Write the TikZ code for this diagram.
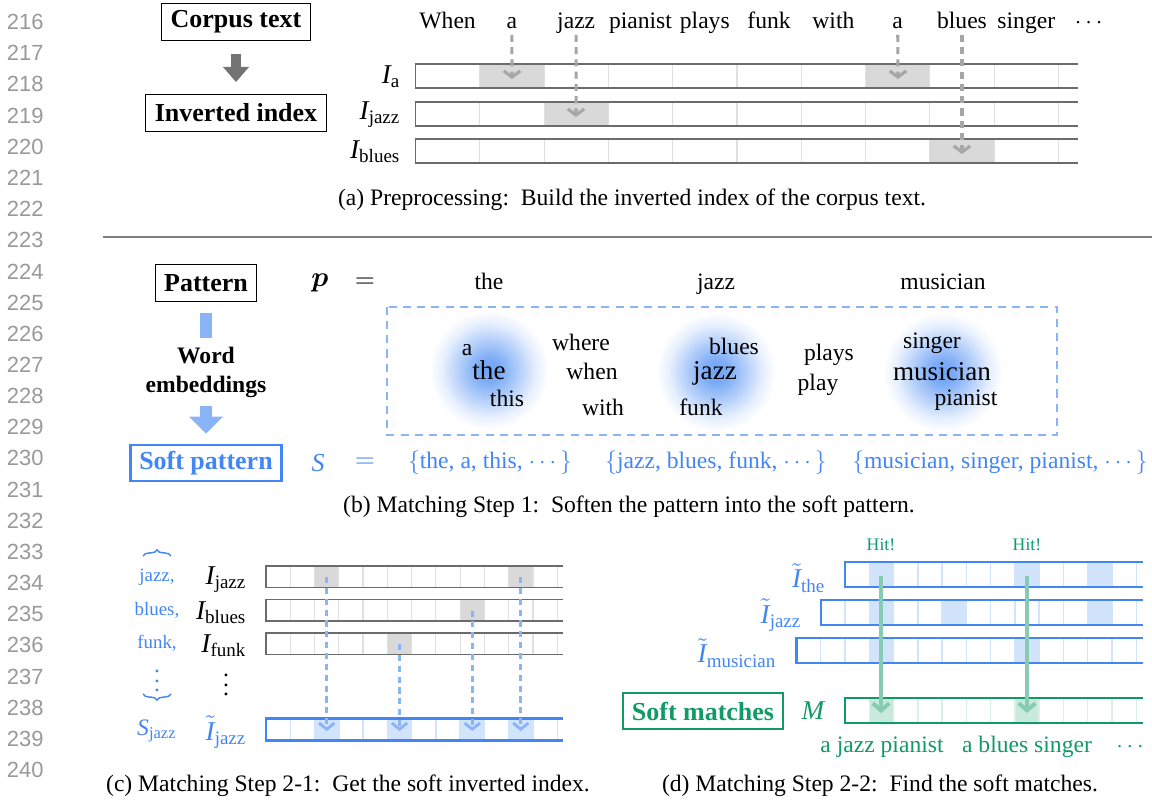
\documentclass[tikz,border=0pt]{standalone}
\usepackage{amsmath}
\usepackage{fontspec}
\setmainfont{Liberation Serif}
\newfontfamily\numfont{Liberation Sans}
\usetikzlibrary{arrows.meta,decorations.pathreplacing}
\definecolor{softblue}{HTML}{4285F4}
\definecolor{lightblue}{HTML}{8AB4F8}
\definecolor{paleblue}{HTML}{D2E3FC}
\definecolor{blobblue}{HTML}{6FA3F5}
\definecolor{matchgreen}{HTML}{0F9A66}
\pgfdeclareradialshading{blobshade}{\pgfpoint{0bp}{0bp}}{color(0bp)=(blobblue); color(5bp)=(blobblue!90!white); color(13bp)=(blobblue!50!white); color(20bp)=(blobblue!15!white); color(25bp)=(white); color(50bp)=(white)}

\begin{document}
\begin{tikzpicture}[
    x=0.4237pt, y=-0.4237pt,
    every node/.style={font=\fontsize{10}{12}\selectfont},
    linenum/.style={font=\numfont\fontsize{9.3}{10}\selectfont, text=black!40, anchor=east, inner sep=0pt},
    labelbox/.style={draw=black, line width=0.5pt, font=\fontsize{11}{13}\selectfont\bfseries, inner xsep=3.8pt, inner ysep=0pt, minimum height=15.5pt},
    softbox/.style={labelbox, draw=softblue, text=softblue, line width=1pt},
    matchbox/.style={labelbox, draw=matchgreen, text=matchgreen, line width=1pt},
    word/.style={text height=1.55ex, text depth=0.3ex, inner sep=1pt},
    ilabel/.style={font=\fontsize{11.5}{13}\selectfont, anchor=east, inner sep=0pt},
    setword/.style={text=softblue},
    hitword/.style={text=matchgreen},
    barline/.style={draw=black!58, line width=0.55pt},
    cellline/.style={draw=black!12, line width=0.5pt},
    graycell/.style={fill=black!15},
    bluebar/.style={draw=softblue, line width=1pt},
    bluecellline/.style={draw=paleblue, line width=0.6pt},
    bluecell/.style={fill=paleblue},
    greenbar/.style={draw=matchgreen, line width=1pt},
    greencellline/.style={draw=matchgreen!15, line width=0.6pt},
    greencell/.style={fill=matchgreen!22},
    grayhop/.style={draw=black!35, line width=1.3pt, dash pattern=on 3pt off 2.2pt, -{Straight Barb[length=2.6pt,width=7pt]}},
    bluehop/.style={draw=lightblue, line width=1.2pt, dash pattern=on 2.6pt off 2pt, -{Straight Barb[length=2.6pt,width=6.5pt]}},
    hitarrow/.style={draw=matchgreen!50, line width=1.7pt, -{Straight Barb[length=3pt,width=7pt]}},
    bigarrow/.style={draw=black!55, line width=4.2pt, -{Triangle[length=6.4pt,width=10.6pt]}},
    softshaft/.style={draw=lightblue, line width=5pt},
    softarrow/.style={draw=lightblue, line width=5pt, -{Triangle[length=7.2pt,width=14pt]}},
    dashbox/.style={draw=lightblue, line width=0.5pt, dash pattern=on 3.4pt off 2.6pt},
    setbrace/.style={decorate, decoration={brace, amplitude=2.6pt}, draw=softblue, line width=0.6pt},
    sepline/.style={draw=black!50, line width=0.9pt}
]
    \useasboundingbox (0,0) rectangle (1152,801);

    % line numbers
    \foreach \n in {0,...,24} {
        \pgfmathtruncatemacro\num{216+\n}
        \node[linenum] (ln\n) at (44,{22+31.17*\n}) {\num};
    }

    % (a) preprocessing
    \node[labelbox] (corpus) at (236,22) {Corpus text};
    \node[labelbox] (invidx) at (236,113) {Inverted index};
    \draw[bigarrow, shorten <=5.5pt, shorten >=5.1pt] (corpus) -- (invidx);

    \foreach \w [count=\k from 0] in {When,a,jazz,pianist,plays,funk,with,a,blues,singer,$\cdots$}
        \node[word] (w\k) at ({447.6+64.3*\k},22) {\w};

    \foreach \t/\cells in {64/{1,7},102/{2},139/{8}} {
        \foreach \k in \cells
            \fill[graycell] ({415.5+64.3*\k},\t) rectangle ++(64.3,24);
        \foreach \k in {1,...,10}
            \draw[cellline] ({415.5+64.3*\k},\t) -- ++(0,24);
        \draw[barline] (1078,\t) -- (415.5,\t) -- ++(0,24) -- (1078,\t+24);
    }
    \node[ilabel] (ia) at (401,77) {$\mathit{I}_{\mathrm{a}}$};
    \node[ilabel] (ijazz) at (401,115) {$\mathit{I}_{\mathrm{jazz}}$};
    \node[ilabel] (iblues) at (401,152) {$\mathit{I}_{\mathrm{blues}}$};

    \coordinate (ta1) at (512,79);
    \coordinate (ta2) at (576,117);
    \coordinate (ta3) at (898,79);
    \coordinate (ta4) at (962,154);
    \draw[grayhop] (w1) -- (ta1);
    \draw[grayhop] (w2) -- (ta2);
    \draw[grayhop] (w7) -- (ta3);
    \draw[grayhop] (w8) -- (ta4);

    \node (capa) at (632,200) {(a) Preprocessing:\ \ Build the inverted index of the corpus text.};
    \draw[sepline] (103,237) -- (1152,237);

    % (b) matching step 1
    \shade[shading=blobshade] (489,370) circle (60);
    \shade[shading=blobshade] (716,372) circle (60);
    \shade[shading=blobshade] (943,372) circle (60);
    \draw[dashbox] (387,307) rectangle (1057,435);

    \node[labelbox] (pattern) at (206,283) {Pattern};
    \node[font=\fontsize{10}{12.3}\selectfont\bfseries, align=center] (embed) at (206,372) {Word\\embeddings};
    \node[softbox] (softpat) at (206,463) {Soft pattern};
    \draw[softshaft, shorten <=4.7pt] (pattern) -- (embed);
    \draw[softarrow, shorten >=4.2pt] (embed) -- (softpat);

    \node[font=\fontsize{12}{14}\selectfont] (pvar) at (320,283) {$\boldsymbol{p}$};
    \node[font=\fontsize{11}{13}\selectfont] (peq) at (365,283) {$=$};
    \node[word] (pthe) at (489,283) {the};
    \node[word] (pjazz) at (716,283) {jazz};
    \node[word] (pmus) at (943,283) {musician};

    \node (na) at (467,350) {a};
    \node[font=\fontsize{11.5}{13}\selectfont] (nthe) at (489,370) {the};
    \node (nthis) at (507,398) {this};
    \node (nwhere) at (581,342) {where};
    \node (nwhen) at (592,371) {when};
    \node (nwith) at (603,407) {with};
    \node (nblues) at (734,346) {blues};
    \node[font=\fontsize{11.5}{13}\selectfont] (njazz) at (715,373) {jazz};
    \node (nfunk) at (701,407) {funk};
    \node (nplays) at (829,355) {plays};
    \node (nplay) at (818,385) {play};
    \node (nsinger) at (932,343) {singer};
    \node[font=\fontsize{11.5}{13}\selectfont] (nmus) at (942,372) {musician};
    \node (npianist) at (966,400) {pianist};

    \node[setword, font=\fontsize{11}{13}\selectfont] (svar) at (318,463) {$\mathit{S}$};
    \node[setword, font=\fontsize{11}{13}\selectfont] (seq) at (365,463) {$=$};
    \node[setword] (sthe) at (490,463) {$\{$the, a, this, $\cdots\}$};
    \node[setword] (sjazz) at (716,463) {$\{$jazz, blues, funk, $\cdots\}$};
    \node[setword] (smus) at (1000,463) {$\{$musician, singer, pianist, $\cdots\}$};

    \node (capb) at (629,507) {(b) Matching Step 1:\ \ Soften the pattern into the soft pattern.};

    % (c) matching step 2-1
    \draw[setbrace] (143,556) -- (171,556);
    \draw[setbrace] (171,694) -- (143,694);
    \node[setword, font=\fontsize{8}{10}\selectfont] (sj1) at (157,577) {jazz,};
    \node[setword, font=\fontsize{8}{10}\selectfont] (sj2) at (157,610) {blues,};
    \node[setword, font=\fontsize{8}{10}\selectfont] (sj3) at (157,643) {funk,};
    \node[setword] (sjd) at (157,674) {$\vdots$};
    \node[setword] (sjs) at (157,731) {$\mathit{S}_{\mathrm{jazz}}$};

    \foreach \t/\cells in {566/{2,10},599.5/{8},633/{5}} {
        \foreach \k in \cells
            \fill[graycell] ({266+24.27*\k},\t) rectangle ++(24.27,21.5);
        \foreach \k in {1,...,12}
            \draw[cellline] ({266+24.27*\k},\t) -- ++(0,21.5);
        \draw[barline] (563,\t) -- (266,\t) -- ++(0,21.5) -- (563,\t+21.5);
    }
    \foreach \k in {2,5,8,10}
        \fill[bluecell] ({266+24.27*\k},718.5) rectangle ++(24.27,22);
    \foreach \k in {1,...,12}
        \draw[bluecellline] ({266+24.27*\k},718.5) -- ++(0,22);
    \draw[bluebar] (563,718.5) -- (266,718.5) -- ++(0,22) -- (563,740.5);

    \node[ilabel] (cij) at (247,580) {$\mathit{I}_{\mathrm{jazz}}$};
    \node[ilabel] (cib) at (247,613) {$\mathit{I}_{\mathrm{blues}}$};
    \node[ilabel] (cif) at (247,646) {$\mathit{I}_{\mathrm{funk}}$};
    \node (cid) at (226,678) {$\vdots$};
    \node[ilabel, text=softblue] (citj) at (247,732) {$\tilde{\mathit{I}}_{\mathrm{jazz}}$};

    \coordinate (cs1) at (326.7,577);
    \coordinate (cs2) at (399.5,644);
    \coordinate (cs3) at (472.3,610.5);
    \coordinate (cs4) at (520.8,577);
    \coordinate (ct1) at (326.7,731);
    \coordinate (ct2) at (399.5,731);
    \coordinate (ct3) at (472.3,731);
    \coordinate (ct4) at (520.8,731);
    \foreach \i in {1,...,4}
        \draw[bluehop] (cs\i) -- (ct\i);

    \node (capc) at (348,786) {(c) Matching Step 2-1:\ \ Get the soft inverted index.};

    % (d) matching step 2-2
    \foreach \t/\s/\cells in {562/0/{1,7,10},600/-1/{1,4,10},638/-2/{1,7}} {
        \foreach \c in \cells
            \fill[bluecell] ({845+24.27*\c},\t) rectangle ++(24.27,25);
        \pgfmathtruncatemacro\first{\s+1}
        \foreach \c in {\first,...,12}
            \draw[bluecellline] ({845+24.27*\c},\t) -- ++(0,25);
        \draw[bluebar] (1143,\t) -- ({845+24.27*\s},\t) -- ++(0,25) -- (1143,\t+25);
    }
    \foreach \c in {1,7}
        \fill[greencell] ({845+24.27*\c},698) rectangle ++(24.27,25);
    \foreach \c in {1,...,12}
        \draw[greencellline] ({845+24.27*\c},698) -- ++(0,25);
    \draw[greenbar] (1143,698) -- (845,698) -- ++(0,25) -- (1143,723);

    \node[ilabel, text=softblue] (dit) at (826,578) {$\tilde{\mathit{I}}_{\mathrm{the}}$};
    \node[ilabel, text=softblue] (dij) at (802,615) {$\tilde{\mathit{I}}_{\mathrm{jazz}}$};
    \node[ilabel, text=softblue] (dim) at (777,653) {$\tilde{\mathit{I}}_{\mathrm{musician}}$};
    \node[hitword, font=\fontsize{11.5}{13}\selectfont] (mvar) at (813,711) {$\mathit{M}$};
    \node[matchbox] (softm) at (703,711) {Soft matches};

    \node[hitword, font=\fontsize{7.5}{9}\selectfont] (hit1) at (881,545) {Hit!};
    \node[hitword, font=\fontsize{7.5}{9}\selectfont] (hit2) at (1027,545) {Hit!};
    \coordinate (hs1) at (881,576);
    \coordinate (he1) at (881,713);
    \coordinate (hs2) at (1027,576);
    \coordinate (he2) at (1027,713);
    \draw[hitarrow] (hs1) -- (he1);
    \draw[hitarrow] (hs2) -- (he2);

    \node[hitword] (mt1) at (882,747) {a jazz pianist};
    \node[hitword] (mt2) at (1027,747) {a blues singer};
    \node[hitword] (mtd) at (1132,747) {$\cdots$};

    \node (capd) at (880,786) {(d) Matching Step 2-2:\ \ Find the soft matches.};
\end{tikzpicture}
\end{document}
